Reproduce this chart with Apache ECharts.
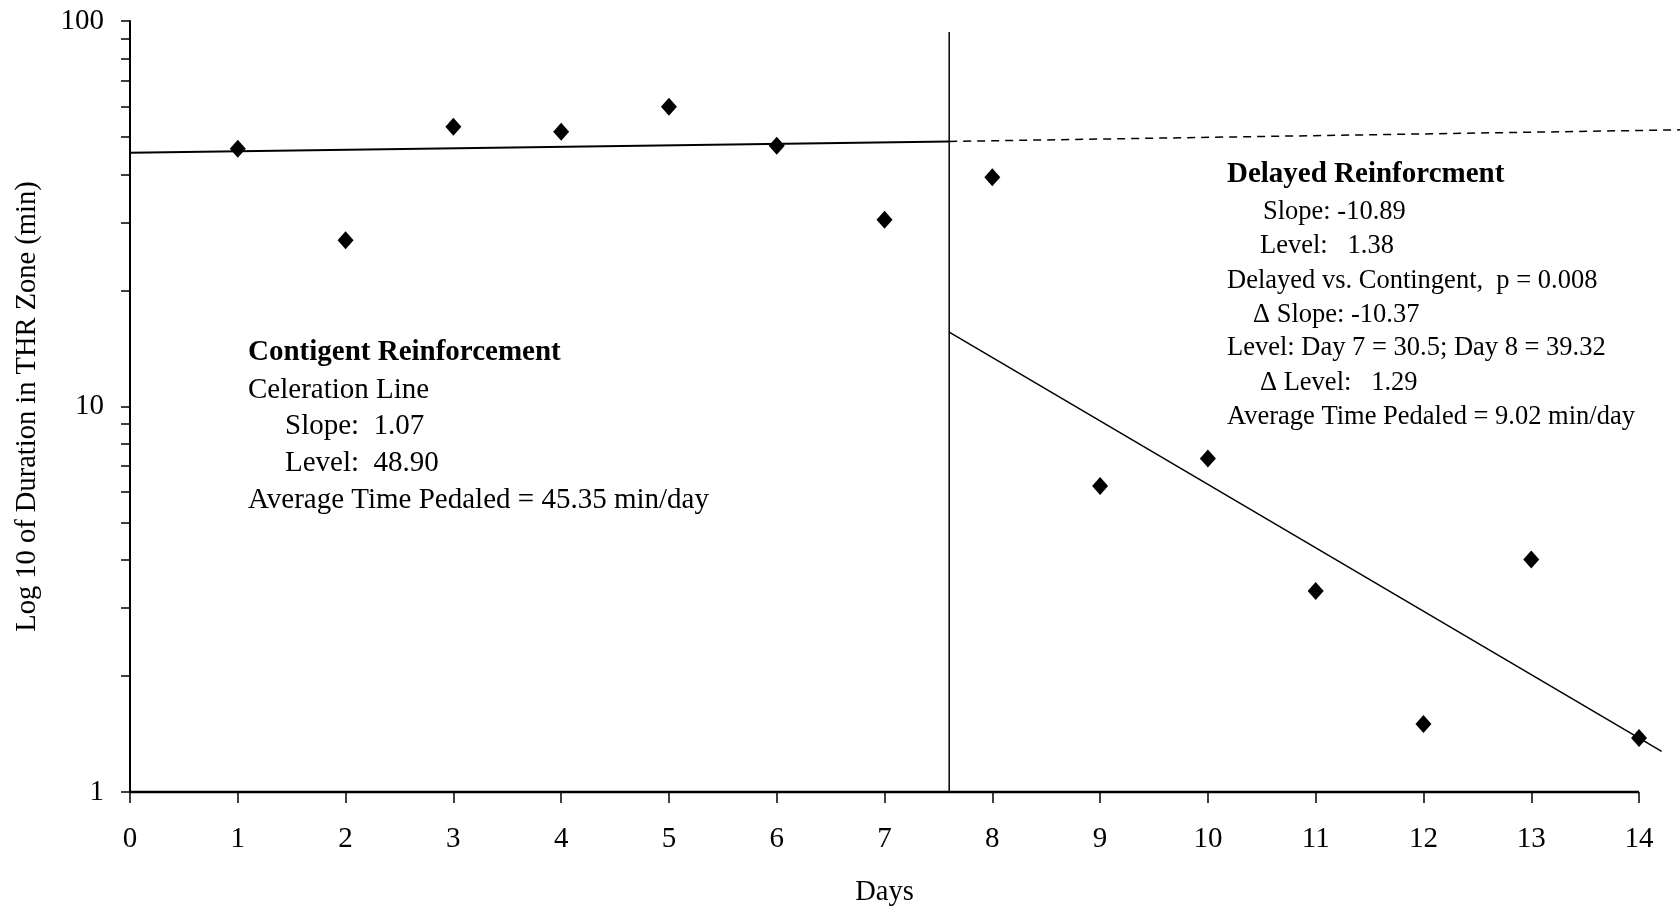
<!DOCTYPE html>
<html>
<head>
<meta charset="utf-8">
<script src="https://cdn.jsdelivr.net/npm/echarts@6/dist/echarts.min.js"></script>
<style>
html,body{margin:0;padding:0;background:#fff;}
#chart{width:1680px;height:914px;}
</style>
</head>
<body>
<div id="chart"></div>
<script>
// ---- data ----
const days = [1, 2, 3, 4, 5, 6, 7, 8, 9, 10, 11, 12, 13, 14];
const durations = [46.6, 27.0, 53.2, 51.6, 59.9, 47.5, 30.5, 39.32, 6.22, 7.33, 3.32, 1.50, 4.01, 1.38];
const contingentLineX = [0, 7.6];
const contingentLineY = [45.5, 48.7];
const projectedLineX = [7.6, 14.38];
const projectedLineY = [48.7, 52.2];
const delayedLineX = [7.6, 14.21];
const delayedLineY = [15.6, 1.275];
const phaseChangeX = [7.6, 7.6];
const phaseChangeY = [1, 93.7];
const xTickValues = [0, 1, 2, 3, 4, 5, 6, 7, 8, 9, 10, 11, 12, 13, 14];
const xAxisMin = 0;
const xAxisLastTick = 14;
const xAxisMax = 14.38;   // plotting area continues a little beyond day 14
const yTickValues = [1, 2, 3, 4, 5, 6, 7, 8, 9, 10, 20, 30, 40, 50, 60, 70, 80, 90, 100];
const yLabelValues = [1, 10, 100];
const xAxisTitle = 'Days';
const yAxisTitle = 'Log 10 of Duration in THR Zone (min)';
const leftNotes = [
  'Contigent Reinforcement',
  'Celeration Line',
  'Slope:  1.07',
  'Level:  48.90',
  'Average Time Pedaled = 45.35 min/day'
];
const rightNotes = [
  'Delayed Reinforcment',
  'Slope: -10.89',
  'Level:   1.38',
  'Delayed vs. Contingent,  p = 0.008',
  '\u0394 Slope: -10.37',
  'Level: Day 7 = 30.5; Day 8 = 39.32',
  '\u0394 Level:   1.29',
  'Average Time Pedaled = 9.02 min/day'
];

const zip = (a, b) => a.map((v, i) => [v, b[i]]);
const FONT = '"Liberation Serif", "Times New Roman", serif';

const leftPos = [[248, 353], [248, 390], [285, 426.5], [285, 463], [248, 500]];
const rightPos = [[1227, 175], [1263, 212.5], [1260, 246.5], [1227, 281], [1253, 315], [1227, 348.5], [1260, 383], [1227, 417]];

const graphics = [];
leftNotes.forEach((t, i) => {
  graphics.push({
    type: 'text', x: leftPos[i][0], y: leftPos[i][1],
    style: { text: t, fill: '#000', font: (i === 0 ? 'bold ' : '') + '29px ' + FONT, verticalAlign: 'middle', align: 'left' }
  });
});
rightNotes.forEach((t, i) => {
  graphics.push({
    type: 'text', x: rightPos[i][0], y: rightPos[i][1],
    style: { text: t, fill: '#000', font: (i === 0 ? 'bold 29px ' : '26.5px ') + FONT, verticalAlign: 'middle', align: 'left' }
  });
});

const chart = echarts.init(document.getElementById('chart'), null, { renderer: 'canvas' });
chart.setOption({
  backgroundColor: '#fff',
  animation: false,
  grid: { left: 130, right: 0, top: 21, bottom: 122, containLabel: false, outerBoundsMode: 'none' },
  xAxis: {
    type: 'value', min: xAxisMin, max: xAxisMax,
    name: xAxisTitle, nameLocation: 'middle', nameGap: 86,
    nameTextStyle: { fontFamily: FONT, fontSize: 28.5, color: '#000', padding: [0, 41, 0, 0] },
    axisLine: { show: false },
    axisTick: { show: true, inside: false, length: 11, customValues: xTickValues, lineStyle: { color: '#000', width: 1.5 } },
    axisLabel: { fontFamily: FONT, fontSize: 29, color: '#000', margin: 33, customValues: xTickValues },
    splitLine: { show: false }
  },
  yAxis: {
    type: 'log', logBase: 10, min: 1, max: 100,
    name: yAxisTitle, nameLocation: 'middle', nameGap: 88, nameRotate: 90,
    nameTextStyle: { fontFamily: FONT, fontSize: 28.5, color: '#000' },
    axisLine: { show: true, lineStyle: { color: '#000', width: 2 } },
    axisTick: { show: true, inside: false, length: 9, customValues: yTickValues, lineStyle: { color: '#000', width: 1.5 } },
    axisLabel: { fontFamily: FONT, fontSize: 29, color: '#000', margin: 26, customValues: yLabelValues },
    splitLine: { show: false },
    minorTick: { show: false }
  },
  graphic: graphics,
  series: [
    {
      // x-axis base line, from day 0 to day 14
      type: 'line', data: zip([xAxisMin, xAxisLastTick], [1, 1]), symbol: 'none', clip: false,
      lineStyle: { color: '#000', width: 2.5 }, silent: true, z: 3
    },
    {
      type: 'line', data: zip(phaseChangeX, phaseChangeY), symbol: 'none', clip: false,
      lineStyle: { color: '#000', width: 1.5 }, silent: true, z: 1
    },
    {
      type: 'line', data: zip(contingentLineX, contingentLineY), symbol: 'none', clip: false,
      lineStyle: { color: '#000', width: 2 }, silent: true, z: 2
    },
    {
      type: 'line', data: zip(projectedLineX, projectedLineY), symbol: 'none', clip: false,
      lineStyle: { color: '#000', width: 1.5, type: [8, 6] }, silent: true, z: 2
    },
    {
      type: 'line', data: zip(delayedLineX, delayedLineY), symbol: 'none', clip: false,
      lineStyle: { color: '#000', width: 1.5 }, silent: true, z: 2
    },
    {
      type: 'scatter', data: zip(days, durations), symbol: 'diamond', symbolSize: [16, 18],
      itemStyle: { color: '#000', opacity: 1 }, clip: false, z: 5
    }
  ]
});
</script>
</body>
</html>
